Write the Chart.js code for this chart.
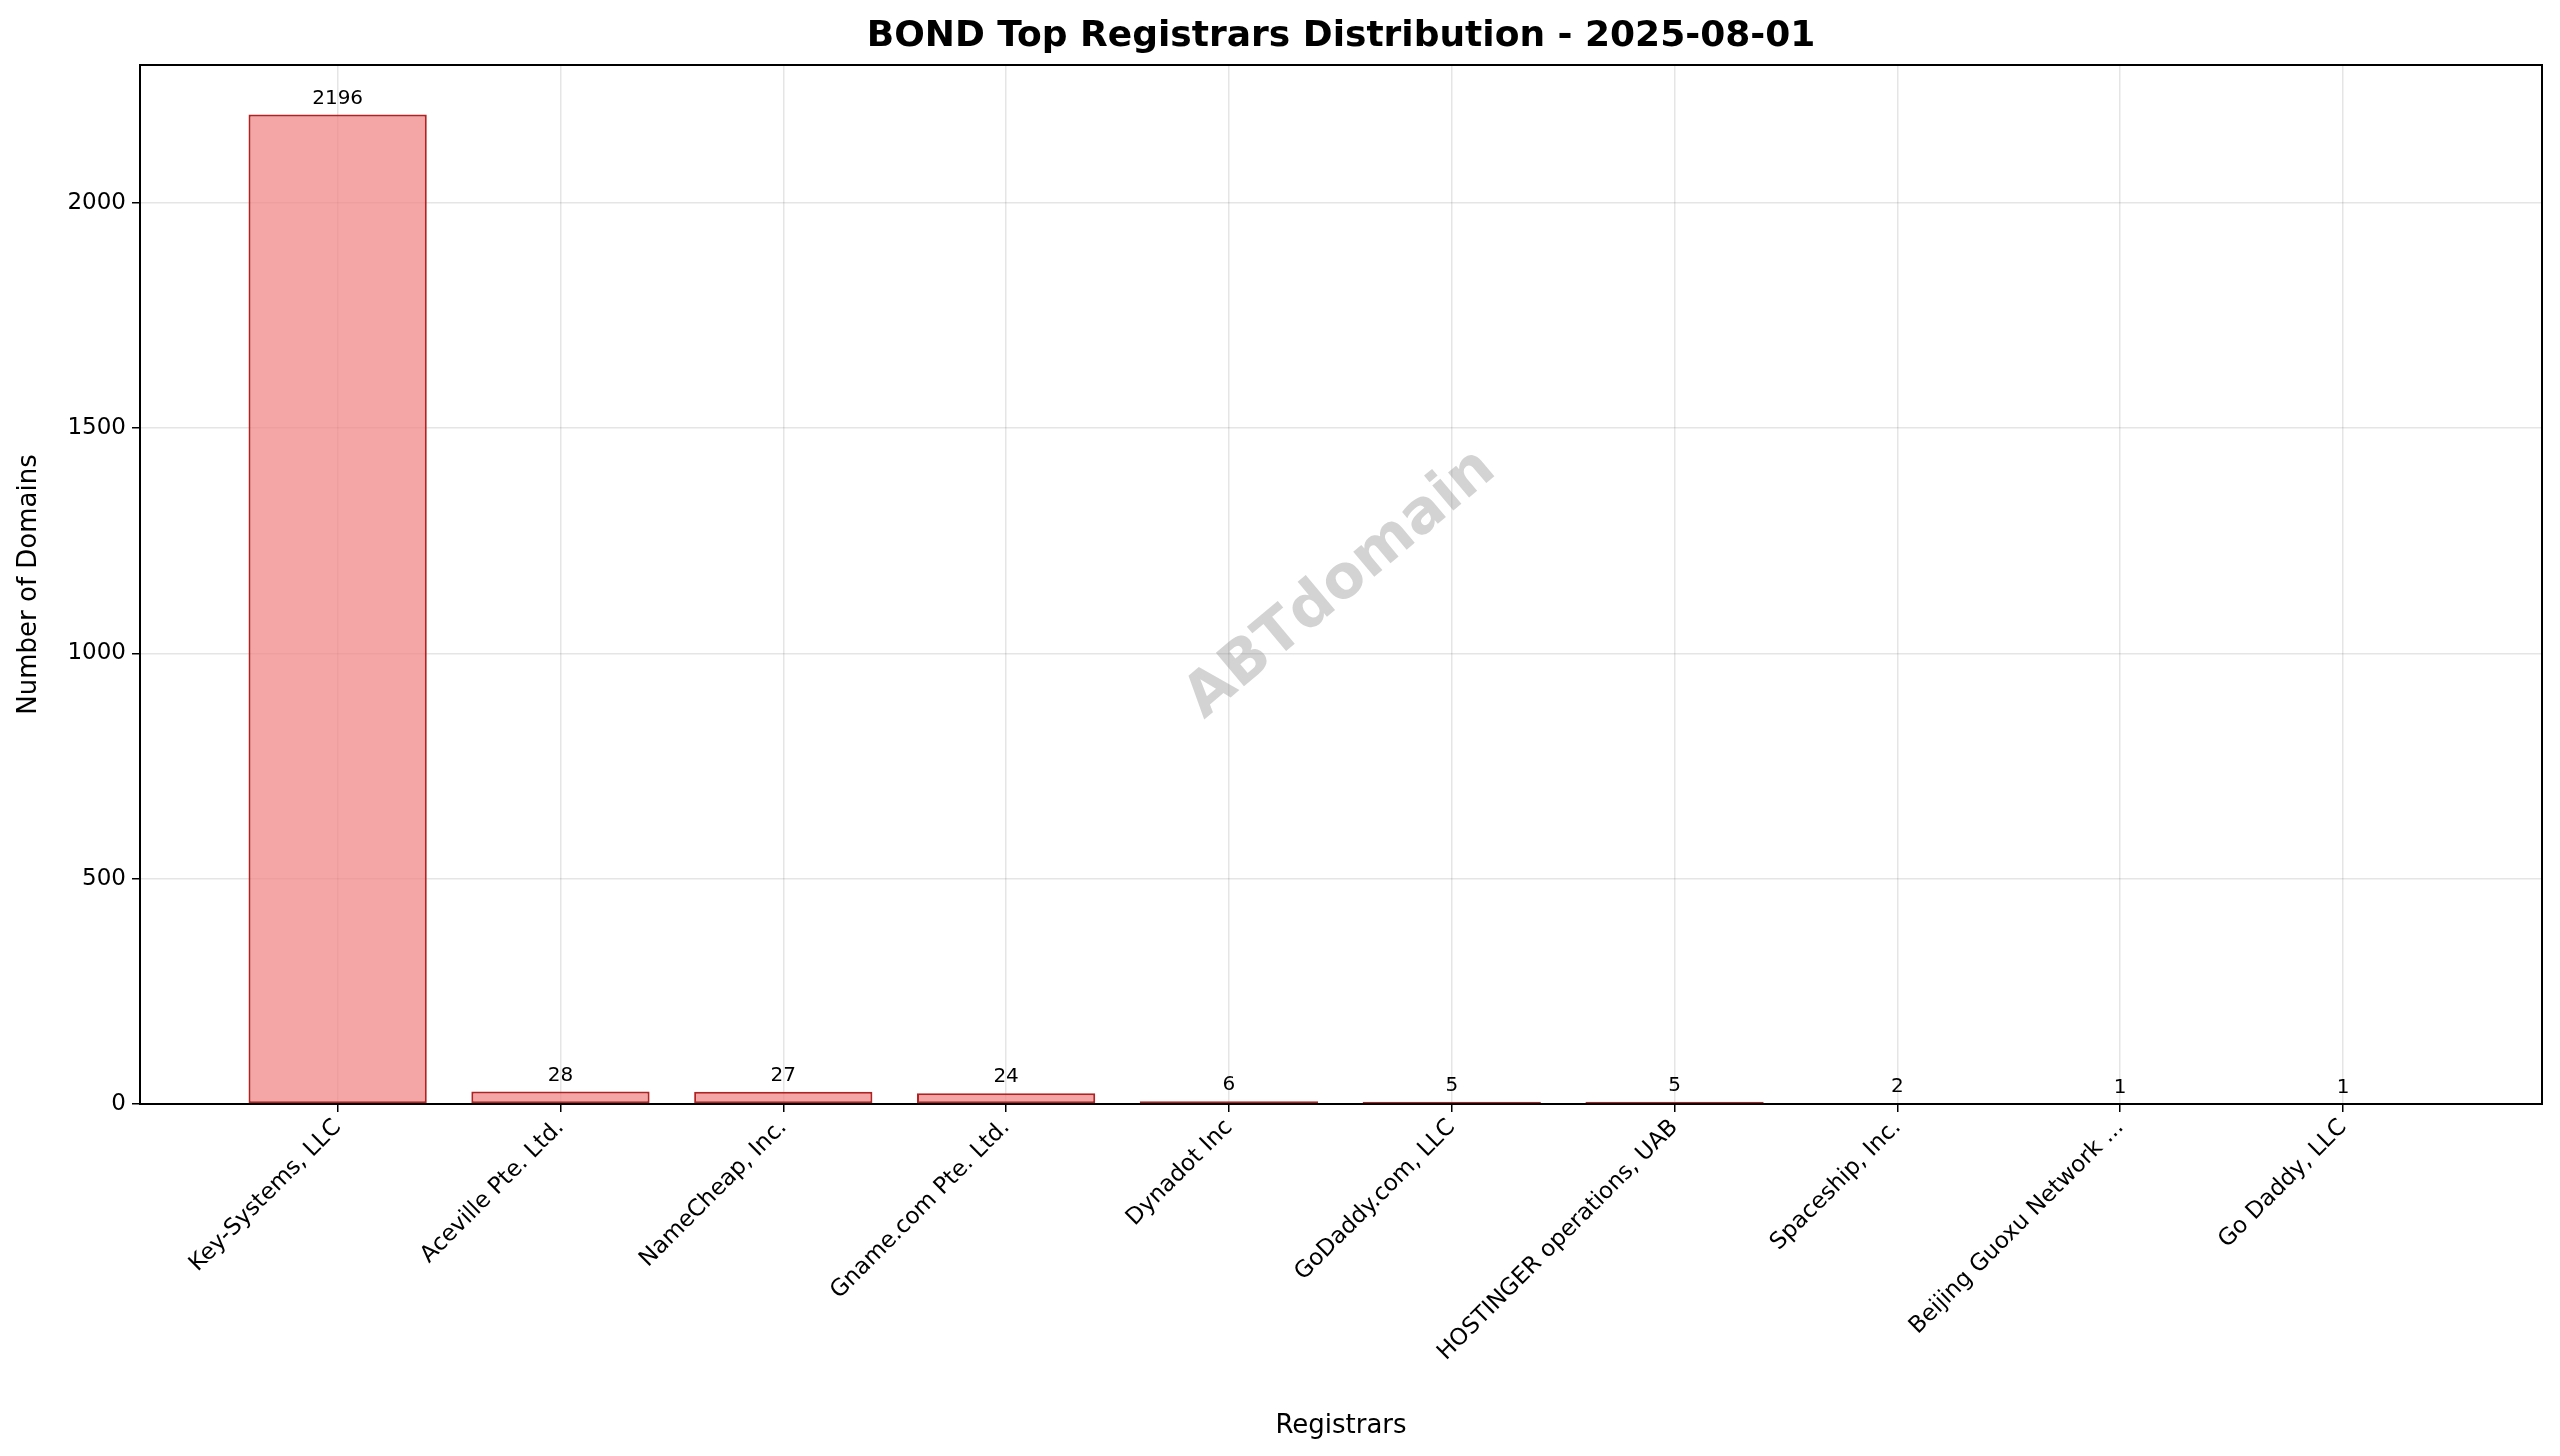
<!DOCTYPE html>
<html><head><meta charset="utf-8">
<script src="https://cdn.jsdelivr.net/npm/chart.js@4"></script>
<style>html,body{margin:0;padding:0;background:#fff}canvas{display:block}</style>
</head><body>
<div style="width:2560px;height:1456px"><canvas id="c" width="2560" height="1456"></canvas></div>
<script>
const categories = ["Key-Systems, LLC","Aceville Pte. Ltd.","NameCheap, Inc.","Gname.com Pte. Ltd.","Dynadot Inc","GoDaddy.com, LLC","HOSTINGER operations, UAB","Spaceship, Inc.","Beijing Guoxu Network ...","Go Daddy, LLC"];
const values = [2196,28,27,24,6,5,5,2,1,1];
const yTicks = [0,500,1000,1500,2000];
const titleText = "BOND Top Registrars Distribution - 2025-08-01";

const F = "'DejaVu Sans', sans-serif";
const deco = {
  id:'deco',
  afterDatasetsDraw(ch){
    const {ctx, chartArea:a, scales:{x,y}} = ch;
    ctx.save();
    ctx.fillStyle='#000'; ctx.font='20px '+F; ctx.textAlign='center'; ctx.textBaseline='bottom';
    values.forEach((v,i)=>ctx.fillText(String(v), x.getPixelForValue(i), y.getPixelForValue(v)-6));
    ctx.translate((a.left+a.right)/2,(a.top+a.bottom)/2);
    ctx.rotate(-40*Math.PI/180);
    ctx.font='bold 60px '+F; ctx.fillStyle='rgba(128,128,128,0.35)'; ctx.textBaseline='middle';
    ctx.fillText('ABTdomain',0,0);
    ctx.restore();
    ctx.save();
    ctx.strokeStyle='#000'; ctx.lineWidth=2;
    ctx.strokeRect(a.left,a.top,a.right-a.left,a.bottom-a.top);
    ctx.fillStyle='#000'; ctx.font='bold 36px '+F; ctx.textAlign='center'; ctx.textBaseline='middle';
    ctx.fillText(titleText,(a.left+a.right)/2,37);
    ctx.restore();
  }
};
new Chart(document.getElementById('c'),{
  type:'bar',
  data:{datasets:[{data:values.map((v,i)=>({x:i,y:v})),backgroundColor:'rgba(240,128,128,0.7)',borderColor:'#b22222',borderWidth:2,barPercentage:0.8,categoryPercentage:1,borderSkipped:false}]},
  options:{
    responsive:false,animation:false,devicePixelRatio:1,
    layout:{padding:{left:10,right:18,top:65,bottom:10}},
    plugins:{legend:{display:false},tooltip:{enabled:false},title:{display:false}},
    scales:{
      x:{type:'linear',min:-0.887,max:9.893,offset:false,
        afterBuildTicks(s){s.ticks=categories.map((c,i)=>({value:i}));},
        afterFit(s){s.height=342;},
        ticks:{callback:(v)=>categories[v]??'',maxRotation:45,minRotation:45,autoSkip:false,color:'#000',font:{size:23,family:F},padding:2},
        grid:{offset:false,color:'rgba(0,0,0,0.1)',lineWidth:1.5,tickLength:8,tickColor:'#000'},
        border:{display:false},
        title:{display:true,text:'Registrars',color:'#000',font:{size:26,family:F},padding:{top:0,bottom:4}}},
      y:{min:0,max:2306,
        afterBuildTicks(s){s.ticks=yTicks.map(v=>({value:v}));},
        afterFit(s){s.width=130;},
        ticks:{callback:(v)=>String(v),color:'#000',font:{size:23,family:F},padding:6},
        grid:{color:'rgba(0,0,0,0.1)',lineWidth:1.5,tickLength:8,tickColor:'#000'},
        border:{display:false},
        title:{display:true,text:'Number of Domains',color:'#000',font:{size:26,family:F},padding:{bottom:8}}}
    }
  },
  plugins:[deco]
});
</script></body></html>
